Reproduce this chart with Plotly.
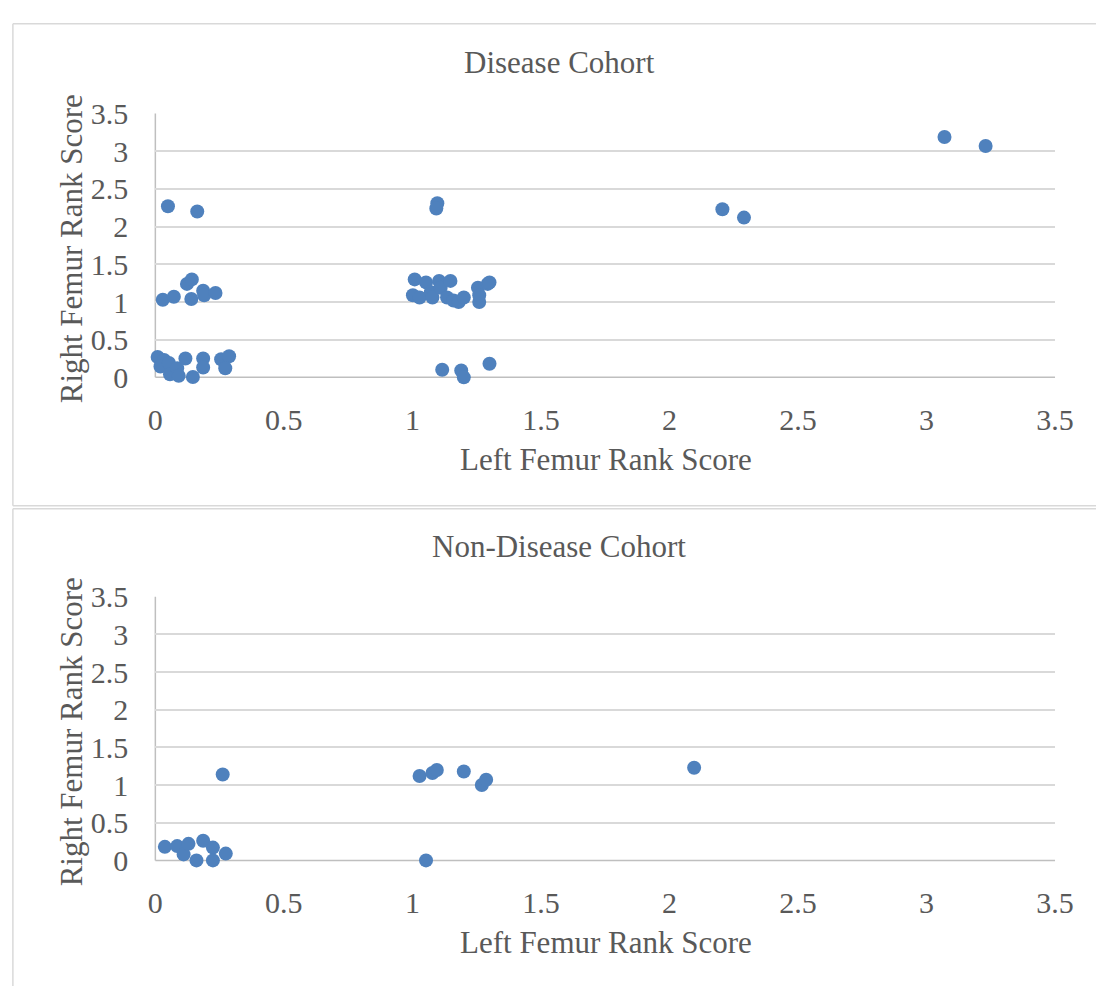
import plotly.graph_objects as go

# Disease cohort: left vs right femur rank scores
disease_left = [0.049, 0.163, 1.097, 1.093, 2.206, 2.29, 3.07, 3.23,
                0.029, 0.072, 0.123, 0.142, 0.14, 0.186, 0.19, 0.234,
                0.009, 0.034, 0.02, 0.053, 0.057, 0.085, 0.091, 0.117, 0.146, 0.186, 0.186, 0.256, 0.287, 0.272,
                1.009, 1.002, 1.028, 1.053, 1.072, 1.078, 1.104, 1.11, 1.148, 1.135, 1.16, 1.18, 1.2, 1.255, 1.26, 1.26, 1.293, 1.30,
                1.116, 1.19, 1.2, 1.30]
disease_right = [2.27, 2.20, 2.31, 2.24, 2.23, 2.12, 3.19, 3.07,
                 1.03, 1.07, 1.24, 1.30, 1.04, 1.15, 1.09, 1.12,
                 0.27, 0.23, 0.145, 0.19, 0.04, 0.12, 0.02, 0.25, 0.005, 0.25, 0.13, 0.24, 0.28, 0.12,
                 1.30, 1.09, 1.06, 1.26, 1.13, 1.06, 1.28, 1.19, 1.28, 1.06, 1.02, 1.0, 1.06, 1.19, 1.0, 1.09, 1.24, 1.26,
                 0.10, 0.09, 0.0, 0.18]

# Non-disease cohort
control_left = [0.262, 0.037, 0.085, 0.11, 0.129, 0.186, 0.224, 0.16, 0.224, 0.274,
                1.028, 1.078, 1.095, 1.2, 1.27, 1.287, 1.053, 2.096]
control_right = [1.14, 0.18, 0.19, 0.08, 0.22, 0.26, 0.17, 0.0, 0.0, 0.09,
                 1.12, 1.16, 1.20, 1.18, 1.0, 1.07, 0.0, 1.23]

panel_titles = ["Disease Cohort", "Non-Disease Cohort"]
x_title = "Left Femur Rank Score"
y_title = "Right Femur Rank Score"
tick_vals = [0, 0.5, 1, 1.5, 2, 2.5, 3, 3.5]
tick_text = ["0", "0.5", "1", "1.5", "2", "2.5", "3", "3.5"]

W, H = 1115, 1003
FONT = "Liberation Serif"
TXT = "#595959"
BLUE = "#4f81bd"
GRID = "#d9d9d9"
AXIS = "#bfbfbf"


def py(p):
    return 1 - p / H


def px(p):
    return p / W


def hline(x0, x1, y, color, width=1.5):
    fig.add_shape(type="line", xref="paper", yref="paper", x0=px(x0), x1=px(x1),
                  y0=py(y), y1=py(y), line=dict(color=color, width=width), layer="below")


def vline(x, y0, y1, color, width=1.5):
    fig.add_shape(type="line", xref="paper", yref="paper", x0=px(x), x1=px(x),
                  y0=py(y0), y1=py(y1), line=dict(color=color, width=width), layer="below")


fig = go.Figure()

marker = dict(size=14, color=BLUE, line=dict(width=0))
fig.add_trace(go.Scatter(x=disease_left, y=disease_right, mode="markers", marker=marker,
                         xaxis="x", yaxis="y", cliponaxis=False, showlegend=False))
fig.add_trace(go.Scatter(x=control_left, y=control_right, mode="markers", marker=marker,
                         xaxis="x2", yaxis="y2", cliponaxis=False, showlegend=False))

xdom = [px(151), px(1073)]
axis_common = dict(range=[0, 3.5], tickvals=tick_vals, ticktext=tick_text,
                   tickfont=dict(family=FONT, size=30, color=TXT), showline=False, zeroline=False)


def xaxis(anchor):
    return dict(axis_common, domain=xdom, anchor=anchor, showgrid=False,
                ticks="", ticklabelstandoff=22)


def yaxis(anchor, dom):
    return dict(axis_common, domain=dom, anchor=anchor, showgrid=True, gridcolor=GRID, gridwidth=1.5,
                ticks="", ticklabelstandoff=26)


fig.update_layout(
    width=W, height=H,
    margin=dict(l=0, r=0, t=0, b=0),
    paper_bgcolor="white", plot_bgcolor="white",
    xaxis=xaxis("y"), yaxis=yaxis("x", [py(373), py(100)]),
    xaxis2=xaxis("y2"), yaxis2=yaxis("x2", [py(873), py(600)]),
)

# Axis lines (left and bottom) for each panel
for top, bot in [(100, 373), (600, 873)]:
    vline(151, bot, top, AXIS)
    hline(151, 1073, bot, AXIS)

# Chart-area frames (open on the right, as the chart area runs past the edge)
hline(5, W, 7, GRID)
vline(5, 7, 506, GRID)
hline(5, W, 506, GRID)
hline(5, W, 509, GRID)
vline(5, 509, H, GRID)

# Panel titles and axis titles
title_font = dict(family=FONT, size=31, color=TXT)
for title, t_y, xt_y, yt_y in zip(panel_titles, [47, 548], [458, 958], [240, 740]):
    fig.add_annotation(text=title, xref="paper", yref="paper", x=px(565), y=py(t_y),
                       showarrow=False, xanchor="center", yanchor="middle", font=title_font)
    fig.add_annotation(text=x_title, xref="paper", yref="paper", x=px(613), y=py(xt_y),
                       showarrow=False, xanchor="center", yanchor="middle", font=title_font)
    fig.add_annotation(text=y_title, xref="paper", yref="paper", x=px(65), y=py(yt_y),
                       showarrow=False, xanchor="center", yanchor="middle", textangle=-90,
                       font=title_font)

fig.write_html("out.html")
